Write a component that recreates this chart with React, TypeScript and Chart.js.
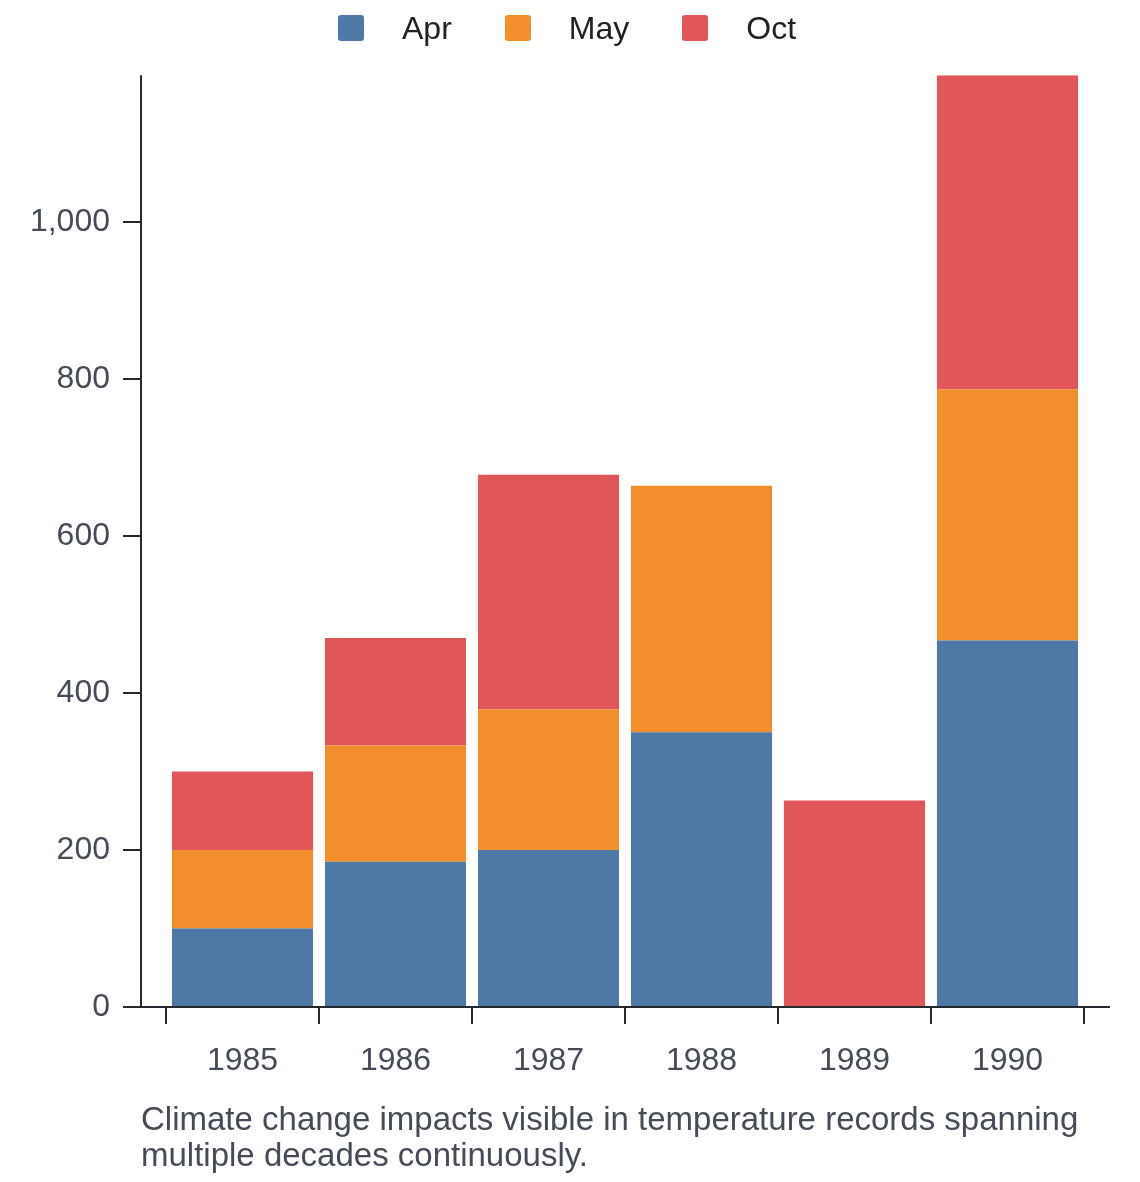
import { useEffect, useRef } from "react"
import { Chart, registerables } from "chart.js"

Chart.register(...registerables)

const years = ["1985", "1986", "1987", "1988", "1989", "1990"]
const aprValues = [100, 185, 200, 350, 0, 467]
const mayValues = [100, 148, 179, 314, 0, 320]
const octValues = [100, 137, 299, 0, 263, 400]
const yTickStep = 200

const series = [
  { label: "Apr", data: aprValues, color: "#4e79a7" },
  { label: "May", data: mayValues, color: "#f28e2b" },
  { label: "Oct", data: octValues, color: "#e15759" },
]

const caption =
  "Climate change impacts visible in temperature records spanning multiple decades continuously."

const FONT = '"Liberation Sans", Arial, Helvetica, sans-serif'
const AXIS = "#24292e"
const TICK_TEXT = "#454c57"

// axis lines drawn by hand: the y axis sits left of the first band and the x line runs past both ends
const axesPlugin = {
  id: "handAxes",
  afterDatasetsDraw(chart: Chart) {
    const { ctx, chartArea, scales } = chart
    const y = scales.y
    const axisX = chartArea.left - 25
    ctx.save()
    ctx.strokeStyle = AXIS
    ctx.lineWidth = 2
    ctx.beginPath()
    ctx.moveTo(axisX, chartArea.top)
    ctx.lineTo(axisX, chartArea.bottom)
    y.ticks.forEach((t) => {
      const py = Math.round(y.getPixelForValue(t.value))
      ctx.moveTo(axisX - 18, py)
      ctx.lineTo(axisX, py)
    })
    ctx.moveTo(axisX - 18, chartArea.bottom)
    ctx.lineTo(chartArea.right + 26, chartArea.bottom)
    ctx.stroke()
    ctx.restore()
  },
}

export default function App() {
  const chartRef = useRef<HTMLCanvasElement>(null)
  const chartInstance = useRef<Chart | null>(null)

  useEffect(() => {
    document.body.style.margin = "0"
    if (!chartRef.current) return
    const ctx = chartRef.current.getContext("2d")
    if (!ctx) return

    if (chartInstance.current) {
      chartInstance.current.destroy()
    }

    const totals = years.map((_, i) => aprValues[i] + mayValues[i] + octValues[i])

    chartInstance.current = new Chart(ctx, {
      type: "bar",
      data: {
        labels: years,
        datasets: series.map((s) => ({
          label: s.label,
          data: s.data,
          backgroundColor: s.color,
          borderWidth: 0,
          categoryPercentage: 1,
          barPercentage: 0.922,
        })),
      },
      plugins: [axesPlugin],
      options: {
        responsive: true,
        maintainAspectRatio: false,
        animation: false,
        events: [],
        layout: { padding: { top: 75, left: 0, right: 56, bottom: 0 } },
        plugins: {
          legend: { display: false },
          tooltip: { enabled: false },
        },
        scales: {
          x: {
            stacked: true,
            offset: true,
            afterFit: (scale) => {
              scale.height = 175
            },
            border: { display: false },
            grid: {
              display: true,
              offset: true,
              drawOnChartArea: false,
              drawTicks: true,
              tickLength: 17,
              lineWidth: 2,
              color: AXIS,
            },
            ticks: {
              padding: 18,
              color: TICK_TEXT,
              font: { family: FONT, size: 32 },
              maxRotation: 0,
            },
          },
          y: {
            stacked: true,
            beginAtZero: true,
            // only max is fixed, so the 200 step is kept and no tick lands on the top
            max: Math.max(...totals),
            afterFit: (scale) => {
              scale.width = 166
            },
            border: { display: false },
            grid: { display: false, drawTicks: false },
            ticks: {
              stepSize: yTickStep,
              includeBounds: false,
              padding: 56,
              color: TICK_TEXT,
              font: { family: FONT, size: 32 },
              callback: (v) => Number(v).toLocaleString("en-US"),
            },
          },
        },
      },
    })

    return () => {
      if (chartInstance.current) {
        chartInstance.current.destroy()
        chartInstance.current = null
      }
    }
  }, [])

  return (
    <div style={{ position: "relative", width: 1140, height: 1182, overflow: "hidden", fontFamily: FONT }}>
      <canvas ref={chartRef} />
      <div
        style={{
          position: "absolute",
          top: 12,
          left: 338,
          height: 32,
          display: "flex",
          alignItems: "center",
          fontSize: 32,
          lineHeight: "32px",
          color: "#222222",
        }}
      >
        {series.map((s) => (
          <div key={s.label} style={{ display: "flex", alignItems: "center", marginRight: 53 }}>
            <span
              style={{
                display: "inline-block",
                width: 26,
                height: 26,
                borderRadius: 3,
                background: s.color,
                marginRight: 38,
              }}
            />
            <span>{s.label}</span>
          </div>
        ))}
      </div>
      <div
        style={{
          position: "absolute",
          top: 1101,
          left: 141,
          width: 980,
          fontSize: 33,
          lineHeight: "36px",
          color: TICK_TEXT,
        }}
      >
        {caption}
      </div>
    </div>
  )
}
